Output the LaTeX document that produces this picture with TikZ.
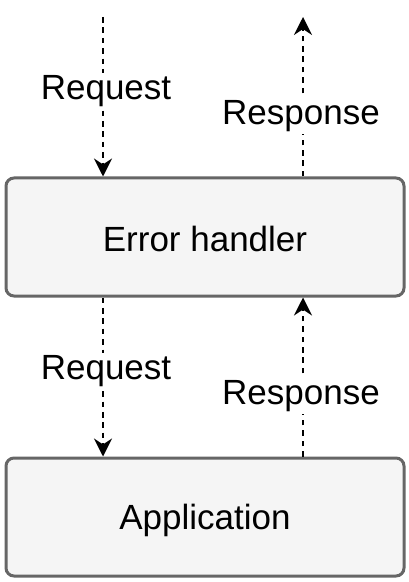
\documentclass[tikz,border=0pt]{standalone}
\usepackage{fontspec}
\setmainfont{Liberation Sans}
\usetikzlibrary{arrows.meta}
\begin{document}
\begin{tikzpicture}[x=0.5pt,y=-0.5pt,
  box/.style={draw=black!60, fill=black!4, line width=1.5pt, rounded corners=4pt,
    minimum width=199pt, minimum height=59pt, inner sep=0pt, font=\fontsize{17.5}{20}\selectfont},
  flow/.style={line width=1pt, dash pattern=on 2.8pt off 2.4pt,
    -{Stealth[length=9pt,width=9pt,inset=3pt]}},
  lbl/.style={fill=white, inner sep=1pt, font=\fontsize{17.5}{20}\selectfont}]
\useasboundingbox (0,0) rectangle (408,582);
\node[box] (eh) at (205,237) {};
\node[box] (app) at (205,517) {};
\node[font=\fontsize{17.5}{20}\selectfont] (ehT) at (205,239) {Error handler};
\node[font=\fontsize{17.5}{20}\selectfont] (appT) at (205,520) {Application};
\coordinate (inTop) at (103,17);
\coordinate (outTop) at (303,17);
\draw[flow] (inTop) -- (inTop |- eh.north);
\draw[flow] (outTop |- eh.north) -- (outTop);
\draw[flow] (inTop |- eh.south) -- (inTop |- app.north);
\draw[flow] (outTop |- app.north) -- (outTop |- eh.south);
\node[lbl] (l1) at (106,91) {Request};
\node[lbl] (l2) at (301,116) {Response};
\node[lbl] (l3) at (106,371) {Request};
\node[lbl] (l4) at (301,396) {Response};
\end{tikzpicture}
\end{document}
